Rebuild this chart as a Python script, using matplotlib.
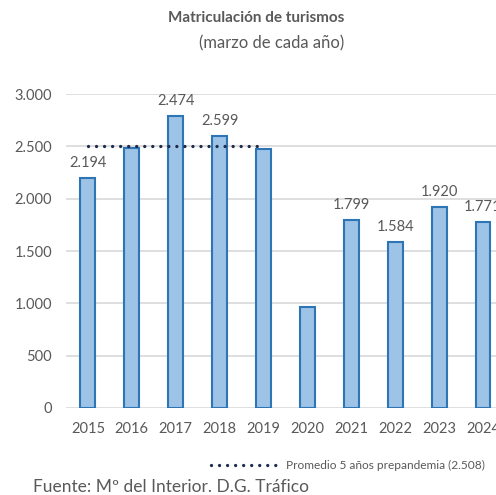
import matplotlib.pyplot as plt

# datos
years = ['2015', '2016', '2017', '2018', '2019', '2020', '2021', '2022', '2023', '2024']
matriculas = [2194, 2487, 2789, 2598, 2474, 965, 1796, 1585, 1920, 1774]
etiquetas = ['2.194', None, '2.474', '2.599', None, None, '1.799', '1.584', '1.920', '1.771']
promedio = 2508
promedio_years = [0, 4]

gris = '#595959'
plt.rcParams['font.family'] = ['Lato', 'DejaVu Sans']

fig = plt.figure(figsize=(4.96, 4.95), dpi=100)
ax = fig.add_axes([0.133, 0.1758, 0.885, 0.634])

x = list(range(len(years)))
bars = ax.bar(x, matriculas, width=0.34, color='#9dc3e6', edgecolor='#2e75b6',
              linewidth=1.5, zorder=2)

for b, lab in zip(bars, etiquetas):
    if lab is None:
        continue
    ax.annotate(lab, (b.get_x() + b.get_width() / 2, b.get_height()),
                xytext=(0, 6), textcoords='offset points', ha='center', va='bottom',
                fontsize=10.5, color=gris)

ax.plot(promedio_years, [promedio, promedio], color='#1f2d4d', linewidth=2.4,
        linestyle=(0, (0.01, 2.4)), dash_capstyle='round', zorder=3,
        label='Promedio 5 años prepandemia (2.508)')

ax.set_xlim(-0.5, len(years) - 0.5)
ax.set_ylim(0, 3000)
ax.set_yticks(range(0, 3001, 500))
ax.set_yticklabels(['0', '500', '1.000', '1.500', '2.000', '2.500', '3.000'])
ax.set_xticks(x)
ax.set_xticklabels(years)
ax.tick_params(axis='both', length=0, labelsize=10.5, colors=gris)
ax.tick_params(axis='y', pad=10)
ax.tick_params(axis='x', pad=10)
ax.grid(axis='y', color='#d9d9d9', linewidth=1.2, zorder=0)
ax.set_axisbelow(True)
for s in ax.spines.values():
    s.set_visible(False)

fig.text(0.516, 0.963, 'Matriculación de turismos', ha='center', va='center',
         fontsize=11, fontweight='bold', color=gris)
fig.text(0.548, 0.913, '(marzo de cada año)', ha='center', va='center',
         fontsize=12, color=gris)

leg = fig.legend(loc='center right', bbox_to_anchor=(1.0, 0.06), frameon=False,
                 fontsize=8.6, handlelength=5.8, handletextpad=0.5)
for t in leg.get_texts():
    t.set_color(gris)

fig.text(0.066, 0.0, 'Fuente: Mº del Interior. D.G. Tráfico', ha='left', va='bottom',
         fontsize=12.5, color=gris)

fig.savefig('out.png', dpi=100)
